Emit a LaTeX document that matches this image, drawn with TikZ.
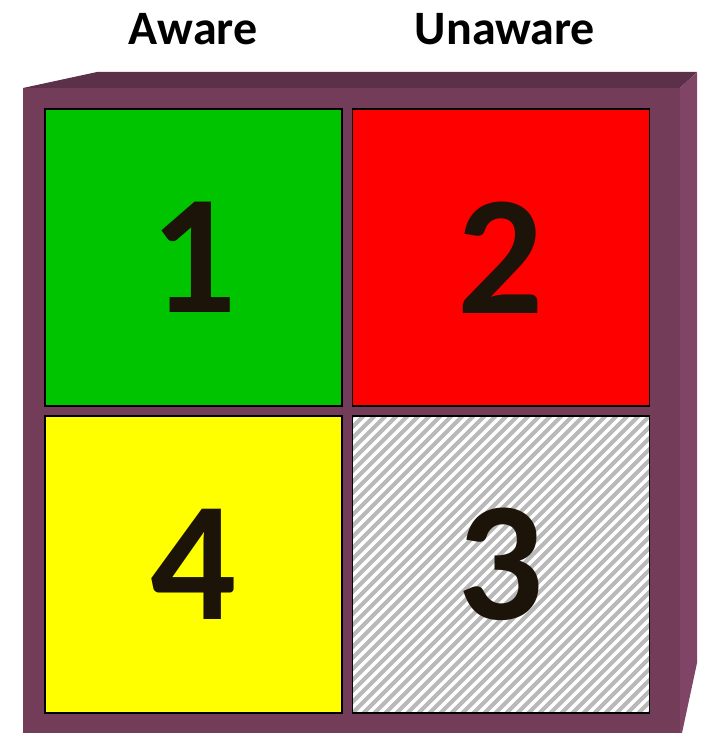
\documentclass[tikz,border=0pt]{standalone}
\usepackage{fontspec}
\setmainfont{Carlito}
\usetikzlibrary{positioning,calc}
\definecolor{plum}{RGB}{115,60,88}
\definecolor{plumtop}{RGB}{92,48,72}
\definecolor{plumside}{RGB}{128,68,102}
\definecolor{grass}{RGB}{0,196,0}
\definecolor{signal}{RGB}{255,0,0}
\definecolor{lemon}{RGB}{255,255,0}
\definecolor{stripe}{RGB}{185,185,185}
\definecolor{ink}{RGB}{28,20,9}
\tikzset{
  quad/.style={draw=black,line width=1.2pt,fill=#1,minimum width=297pt,
    minimum height=297pt,inner sep=0pt,text=ink,
    font=\fontsize{170}{170}\selectfont\bfseries},
  quad/.default=white,
  hatched/.style={quad=white,path picture={
    \foreach \i in {-35,...,35}
      \draw[stripe,line width=4pt]
        ($(path picture bounding box.south west)+(\i*11pt,0pt)$) -- ++(400pt,400pt);
  }},
  head/.style={font=\fontsize{48}{48}\selectfont\bfseries,text=black},
}
\begin{document}
\begin{tikzpicture}[x=1pt,y=-1pt]
  \useasboundingbox (0,0) rectangle (702,733);
  % box
  \fill[plumtop] (23,88) -- (97,72) -- (697,72) -- (680,88) -- cycle;
  \fill[plumside] (680,88) -- (697,72) -- (697,663) -- (682,733) -- (680,733) -- cycle;
  \fill[plum] (23,88) rectangle (680,733);
  % quadrants
  \node[quad=grass] (q1) at (193.5,257.5) {1};
  \node[quad=signal] (q2) at (501,257.5) {2};
  \node[quad=lemon] (q4) at (193.5,564.5) {4};
  \node[hatched] (q3) at (501,564.5) {3};
  % column heads
  \node[head] (aware) at (193,29) {Aware};
  \node[head] (unaware) at (505,29) {Unaware};
\end{tikzpicture}
\end{document}
